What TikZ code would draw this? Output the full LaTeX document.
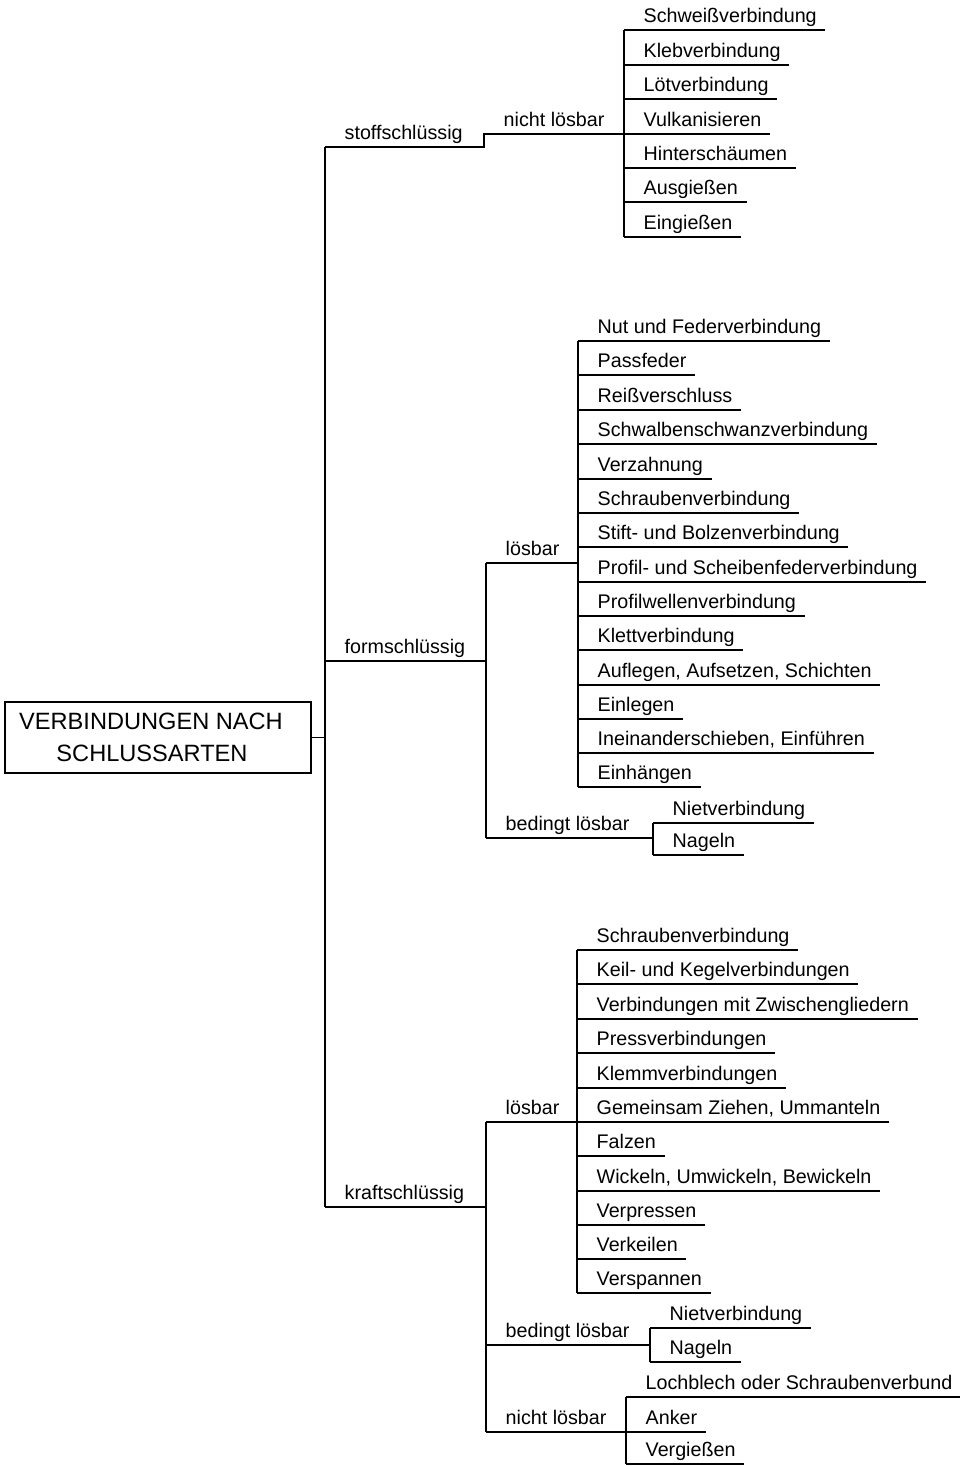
\documentclass[tikz,border=0pt]{standalone}
\usepackage{fontspec}
\setmainfont{Liberation Sans}
\newcommand\myleaf[4]{\node[lf] (#1) at (#2,#3) {#4}; \draw (#1.south west) -- (#1.south east);}
\begin{document}
\begin{tikzpicture}[x=1pt,y=-1pt,line width=1.4pt,
  lf/.style={anchor=south west, inner xsep=8pt, inner ysep=7pt, text depth=0pt,
    font=\fontsize{19.7}{22}\selectfont, execute at begin node={\hspace*{11pt}}},
  rootbox/.style={draw, minimum width=306pt, minimum height=71pt, align=center,
    inner sep=0pt, font=\fontsize{23.6}{32}\selectfont}]
\useasboundingbox (0,0) rectangle (960,1466);

% root
\node[rootbox] (root) at (158,737.5) {VERBINDUNGEN NACH\hspace*{14pt}\\SCHLUSSARTEN\hspace*{12pt}};
\coordinate (rj) at (325,737.5);
\draw (root.east) -- (rj);

% main categories
\node[lf] (stoff) at (325,147) {stoffschlüssig};
\node[lf] (form) at (325,661) {formschlüssig};
\node[lf] (kraft) at (325,1207) {kraftschlüssig};
\draw (stoff.south west) -- (kraft.south west);

% stoffschluessig
\node[lf] (s1) at (484,134) {nicht lösbar};
\myleaf{s1a}{624}{30}{Schweißverbindung}
\myleaf{s1b}{624}{65}{Klebverbindung}
\myleaf{s1c}{624}{99}{Lötverbindung}
\myleaf{s1d}{624}{134}{Vulkanisieren}
\myleaf{s1e}{624}{168}{Hinterschäumen}
\myleaf{s1f}{624}{202}{Ausgießen}
\myleaf{s1g}{624}{237}{Eingießen}
\draw (stoff.south west) -- (s1.south west |- stoff.south west) -- (s1.south west) -- (s1a.south west |- s1.south west);
\draw (s1a.south west) -- (s1g.south west);

% formschluessig
\node[lf] (f1) at (486,563) {lösbar};
\node[lf] (f2) at (486,838) {bedingt lösbar};
\draw (form.south west) -- (f1.south west |- form.south west);
\draw (f1.south west) -- (f2.south west);
\myleaf{f1a}{578}{341}{Nut und Federverbindung}
\myleaf{f1b}{578}{375}{Passfeder}
\myleaf{f1c}{578}{410}{Reißverschluss}
\myleaf{f1d}{578}{444}{Schwalbenschwanzverbindung}
\myleaf{f1e}{578}{479}{Verzahnung}
\myleaf{f1f}{578}{513}{Schraubenverbindung}
\myleaf{f1g}{578}{547}{Stift- und Bolzenverbindung}
\myleaf{f1h}{578}{582}{Profil- und Scheibenfederverbindung}
\myleaf{f1i}{578}{616}{Profilwellenverbindung}
\myleaf{f1j}{578}{650}{Klettverbindung}
\myleaf{f1k}{578}{685}{Auflegen, Aufsetzen, Schichten}
\myleaf{f1l}{578}{719}{Einlegen}
\myleaf{f1m}{578}{753}{Ineinanderschieben, Einführen}
\myleaf{f1n}{578}{787}{Einhängen}
\draw (f1.south west) -- (f1a.south west |- f1.south west);
\draw (f1a.south west) -- (f1n.south west);
\myleaf{f2a}{653}{823}{Nietverbindung}
\myleaf{f2b}{653}{855}{Nageln}
\draw (f2.south west) -- (f2a.south west |- f2.south west);
\draw (f2a.south west) -- (f2b.south west);

% kraftschluessig
\node[lf] (k1) at (486,1122) {lösbar};
\node[lf] (k2) at (486,1345) {bedingt lösbar};
\node[lf] (k3) at (486,1432) {nicht lösbar};
\draw (kraft.south west) -- (k1.south west |- kraft.south west);
\draw (k1.south west) -- (k3.south west);
\myleaf{k1a}{577}{950}{Schraubenverbindung}
\myleaf{k1b}{577}{984}{Keil- und Kegelverbindungen}
\myleaf{k1c}{577}{1019}{Verbindungen mit Zwischengliedern}
\myleaf{k1d}{577}{1053}{Pressverbindungen}
\myleaf{k1e}{577}{1088}{Klemmverbindungen}
\myleaf{k1f}{577}{1122}{Gemeinsam Ziehen, Ummanteln}
\myleaf{k1g}{577}{1156}{Falzen}
\myleaf{k1h}{577}{1191}{Wickeln, Umwickeln, Bewickeln}
\myleaf{k1i}{577}{1225}{Verpressen}
\myleaf{k1j}{577}{1259}{Verkeilen}
\myleaf{k1k}{577}{1293}{Verspannen}
\draw (k1.south west) -- (k1a.south west |- k1.south west);
\draw (k1a.south west) -- (k1k.south west);
\myleaf{k2a}{650}{1328}{Nietverbindung}
\myleaf{k2b}{650}{1362}{Nageln}
\draw (k2.south west) -- (k2a.south west |- k2.south west);
\draw (k2a.south west) -- (k2b.south west);
\myleaf{k3a}{626}{1397}{Lochblech oder Schraubenverbund}
\myleaf{k3b}{626}{1432}{Anker}
\myleaf{k3c}{626}{1464}{Vergießen}
\draw (k3.south west) -- (k3a.south west |- k3.south west);
\draw (k3a.south west) -- (k3c.south west);
\end{tikzpicture}
\end{document}
